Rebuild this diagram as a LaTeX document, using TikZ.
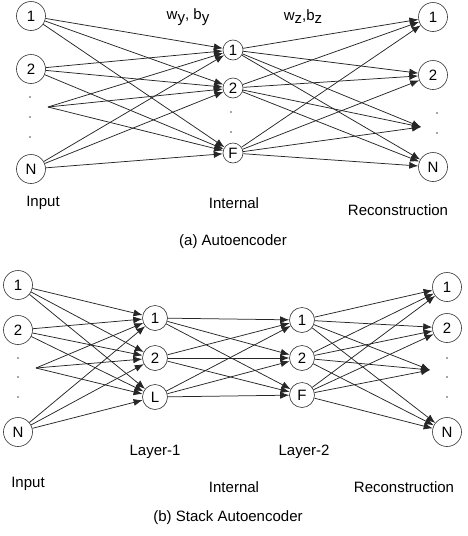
\documentclass[tikz,border=0pt]{standalone}
\usepackage{fontspec}
\setmainfont{Liberation Sans}
\usetikzlibrary{arrows.meta}
\tikzset{
	unit/.style={circle, draw=black!80, line width=0.6pt, inner sep=0pt, minimum size=29pt, font=\fontsize{15}{17}\selectfont},
	hunit/.style={unit, minimum size=20pt},
	lunit/.style={unit, minimum size=25pt},
	link/.style={draw=black!85, line width=0.75pt, -{Latex[length=9pt,width=7pt]}},
	lbl/.style={font=\fontsize{15}{17}\selectfont},
	pt/.style={fill=black!70},
}
\begin{document}
\begin{tikzpicture}[x=1pt, y=-1pt]
	\useasboundingbox (0, 0) rectangle (468, 536);
	% (a) autoencoder
	\node[unit] (ai1) at (31, 16) {1};
	\node[unit] (ai2) at (31, 69) {2};
	\node[unit] (aiN) at (31, 169) {N};
	\coordinate (aid) at (48, 107);
	\node[hunit] (ah1) at (233, 50) {1};
	\node[hunit] (ah2) at (233, 88) {2};
	\node[hunit] (ahF) at (233, 153) {F};
	\node[unit] (ao1) at (433, 17) {1};
	\node[unit] (ao2) at (433, 75) {2};
	\node[unit] (aoN) at (433, 167) {N};
	\coordinate (aod) at (421, 127);
	\foreach \y in {97, 117, 137} \fill[pt] (30, \y) circle (0.8);
	\foreach \y in {112, 132} \fill[pt] (231, \y) circle (0.8);
	\foreach \y in {113, 133} \fill[pt] (437, \y) circle (0.8);
	\foreach \s in {ai1, ai2, aid, aiN}
		\foreach \t in {ah1, ah2, ahF}
			\draw[link] (\s) -- (\t);
	\foreach \s in {ah1, ah2, ahF}
		\foreach \t in {ao1, ao2, aod, aoN}
			\draw[link] (\s) -- (\t);
	\node[lbl] (wy) at (188, 17) {w\raisebox{-3pt}{y}, b\raisebox{-3pt}{y}};
	\node[lbl] (wz) at (303, 17) {w\raisebox{-3pt}{z},b\raisebox{-3pt}{z}};
	\node[lbl] (ain) at (43, 203) {Input};
	\node[lbl] (aint) at (234, 203) {Internal};
	\node[lbl] (arec) at (398, 210) {Reconstruction};
	\node[lbl] (acap) at (233, 242) {(a) Autoencoder};
	% (b) stack autoencoder
	\node[unit] (bi1) at (18, 285) {1};
	\node[unit] (bi2) at (18, 330) {2};
	\node[unit] (biN) at (18, 432) {N};
	\coordinate (bid) at (36, 368);
	\node[lunit] (b11) at (155, 318) {1};
	\node[lunit] (b12) at (155, 358) {2};
	\node[lunit] (b1L) at (155, 397) {L};
	\node[lunit] (b21) at (302, 320) {1};
	\node[lunit] (b22) at (302, 358) {2};
	\node[lunit] (b2F) at (302, 395) {F};
	\node[unit] (bo1) at (447, 287) {1};
	\node[unit] (bo2) at (447, 328) {2};
	\node[unit] (boN) at (447, 432) {N};
	\coordinate (bod) at (430, 370);
	\foreach \y in {358, 377, 397} \fill[pt] (18, \y) circle (0.8);
	\foreach \y in {358, 377, 397} \fill[pt] (447, \y) circle (0.8);
	\foreach \s in {bi1, bi2, bid, biN}
		\foreach \t in {b11, b12, b1L}
			\draw[link] (\s) -- (\t);
	\foreach \s in {b11, b12, b1L}
		\foreach \t in {b21, b22, b2F}
			\draw[link] (\s) -- (\t);
	\foreach \s in {b21, b22, b2F}
		\foreach \t in {bo1, bo2, bod, boN}
			\draw[link] (\s) -- (\t);
	\node[lbl] (bl1) at (155, 452) {Layer-1};
	\node[lbl] (bl2) at (304, 452) {Layer-2};
	\node[lbl] (bin) at (28, 484) {Input};
	\node[lbl] (bint) at (234, 487) {Internal};
	\node[lbl] (brec) at (404, 487) {Reconstruction};
	\node[lbl] (bcap) at (228, 518) {(b) Stack Autoencoder};
\end{tikzpicture}
\end{document}
